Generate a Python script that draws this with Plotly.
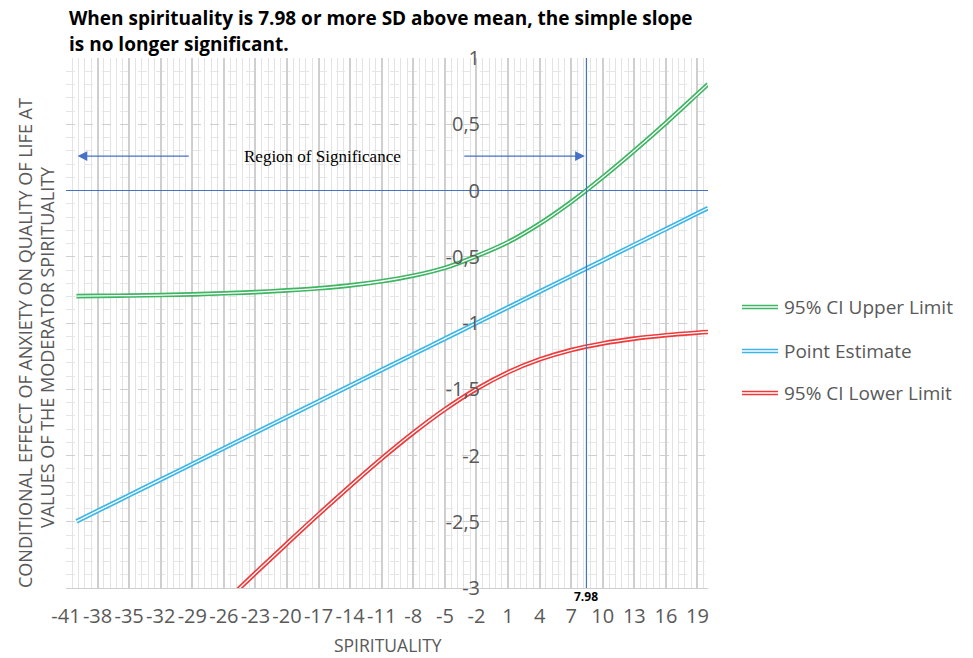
import plotly.graph_objects as go

# ---- data ----
spirituality = [-40, -38, -35, -32, -29, -26, -23, -20, -17, -14, -11, -8, -5, -2,
                1, 4, 7, 10, 13, 16, 19, 20]
ci_upper = [-0.797, -0.795, -0.793, -0.789, -0.784, -0.776, -0.767, -0.754, -0.738,
            -0.716, -0.685, -0.643, -0.584, -0.495, -0.390, -0.251, -0.086, 0.100,
            0.300, 0.510, 0.729, 0.802]
point_estimate = [-2.497, -2.418, -2.300, -2.182, -2.064, -1.945, -1.827, -1.709,
                  -1.591, -1.473, -1.354, -1.236, -1.118, -1.000, -0.882, -0.763,
                  -0.645, -0.527, -0.409, -0.291, -0.172, -0.133]
ci_lower = [None, None, None, None, None, -3.114, -2.887, -2.664, -2.444, -2.230,
            -2.023, -1.829, -1.652, -1.498, -1.372, -1.275, -1.204, -1.154, -1.118,
            -1.092, -1.073, -1.068]

x_tick_vals = list(range(-41, 20, 3))
x_tick_text = [str(v) for v in x_tick_vals]
y_tick_vals = [1, 0.5, 0, -0.5, -1, -1.5, -2, -2.5, -3]
y_tick_text = ["1", "0,5", "0", "-0,5", "-1", "-1,5", "-2", "-2,5", "-3"]

jn_label = "7.98"
jn_line_x = 8.45
series_names = ["95% CI Upper Limit", "Point Estimate", "95% CI Lower Limit"]
series_colors = ["#3DB562", "#3CB6E8", "#EE3A3A"]
series_values = [ci_upper, point_estimate, ci_lower]

TEXT_GRAY = "#595959"
FONT = "Open Sans"
AXIS_BLUE = "#4472C4"

fig = go.Figure()
for name, color, vals in zip(series_names, series_colors, series_values):
    fig.add_trace(go.Scatter(x=spirituality, y=vals, mode="lines", name=name,
                             line=dict(color=color, width=4.6, shape="spline"),
                             showlegend=False, hoverinfo="skip"))
    fig.add_trace(go.Scatter(x=spirituality, y=vals, mode="lines",
                             line=dict(color="white", width=1.3, shape="spline"),
                             showlegend=False, hoverinfo="skip"))

# vertical Johnson-Neyman line
fig.add_shape(type="line", x0=jn_line_x, x1=jn_line_x, y0=-3, y1=1, xref="x", yref="y",
              line=dict(color=AXIS_BLUE, width=1.2), layer="above")

def px_x(p):
    return (p - 66) / 642.0

def px_y(p):
    return (588 - p) / 530.0

annotations = []
# title
annotations.append(dict(text="<b>When spirituality is 7.98 or more SD above mean, the simple slope</b>",
                        x=px_x(67), y=px_y(18), xref="paper", yref="paper",
                        xanchor="left", yanchor="middle", showarrow=False,
                        font=dict(family=FONT, size=19, color="black")))
annotations.append(dict(text="<b>is no longer significant.</b>",
                        x=px_x(67), y=px_y(44), xref="paper", yref="paper",
                        xanchor="left", yanchor="middle", showarrow=False,
                        font=dict(family=FONT, size=19, color="black")))
# y title (two lines)
annotations.append(dict(text="CONDITIONAL EFFECT OF ANXIETY ON QUALITY OF LIFE AT",
                        x=px_x(25), y=px_y(343), xref="paper", yref="paper",
                        textangle=-90, showarrow=False, xanchor="center", yanchor="middle",
                        font=dict(family=FONT, size=18, color=TEXT_GRAY)))
annotations.append(dict(text="VALUES OF THE MODERATOR SPIRITUALITY",
                        x=px_x(47), y=px_y(347), xref="paper", yref="paper",
                        textangle=-90, showarrow=False, xanchor="center", yanchor="middle",
                        font=dict(family=FONT, size=18, color=TEXT_GRAY)))
# x title
annotations.append(dict(text="SPIRITUALITY", x=px_x(388), y=px_y(645), xref="paper",
                        yref="paper", showarrow=False, xanchor="center", yanchor="middle",
                        font=dict(family=FONT, size=17.5, color=TEXT_GRAY)))
# JN label
annotations.append(dict(text="<b>" + jn_label + "</b>", x=jn_line_x, y=-3, xref="x", yref="y",
                        showarrow=False, xanchor="center", yanchor="top", yshift=2,
                        font=dict(family=FONT, size=12, color="black")))
# arrows
annotations.append(dict(x=-39.9, y=0.26, ax=-29.2, ay=0.26, xref="x", yref="y",
                        axref="x", ayref="y", text="", showarrow=True, arrowhead=2,
                        arrowsize=1.5, arrowwidth=1.3, arrowcolor=AXIS_BLUE))
annotations.append(dict(x=8.3, y=0.26, ax=-3.3, ay=0.26, xref="x", yref="y",
                        axref="x", ayref="y", text="", showarrow=True, arrowhead=2,
                        arrowsize=1.5, arrowwidth=1.3, arrowcolor=AXIS_BLUE))
annotations.append(dict(text="Region of Significance", x=-16.6, y=0.26, xref="x", yref="y",
                        showarrow=False, xanchor="center", yanchor="middle",
                        font=dict(family="Liberation Serif", size=17, color="black")))

# manual legend
legend_y = [307, 351, 393]
for name, color, ly in zip(series_names, series_colors, legend_y):
    fig.add_shape(type="line", xref="paper", yref="paper", x0=px_x(742), x1=px_x(778),
                  y0=px_y(ly), y1=px_y(ly), line=dict(color=color, width=4.6))
    fig.add_shape(type="line", xref="paper", yref="paper", x0=px_x(742), x1=px_x(778),
                  y0=px_y(ly), y1=px_y(ly), line=dict(color="white", width=1.3))
    annotations.append(dict(text=name, x=px_x(782), y=px_y(ly), xref="paper", yref="paper",
                            showarrow=False, xanchor="left", yanchor="middle",
                            font=dict(family=FONT, size=19, color=TEXT_GRAY)))

fig.update_layout(
    width=973, height=658,
    margin=dict(l=66, r=265, t=58, b=70, autoexpand=False),
    plot_bgcolor="white", paper_bgcolor="white",
    showlegend=False,
    annotations=annotations,
    xaxis=dict(range=[-41, 20], tickmode="array", tickvals=x_tick_vals, ticktext=x_tick_text,
               tickangle=0, showgrid=True, gridcolor="#cfcfcf", gridwidth=1.6,
               zeroline=False, showline=True, linecolor="#cfcfcf", ticks="",
               ticklabelstandoff=10,
               minor=dict(tick0=-41, dtick=0.6, showgrid=True, gridcolor="#e3e3e3",
                          gridwidth=1),
               tickfont=dict(family=FONT, size=20, color=TEXT_GRAY)),
    yaxis=dict(range=[-3, 1], tickmode="array", tickvals=y_tick_vals, ticktext=y_tick_text,
               anchor="free", position=(480 - 66) / 642.0, side="left",
               showgrid=True, gridcolor="#cfcfcf", griddash="dash", gridwidth=1.2,
               zeroline=True, zerolinecolor=AXIS_BLUE, zerolinewidth=1.3,
               showline=False, ticks="",
               minor=dict(tick0=0, dtick=0.1, showgrid=True, gridcolor="#e6e6e6",
                          griddash="dash", gridwidth=1),
               tickfont=dict(family=FONT, size=20, color=TEXT_GRAY)),
)

fig.write_html("out.html")
